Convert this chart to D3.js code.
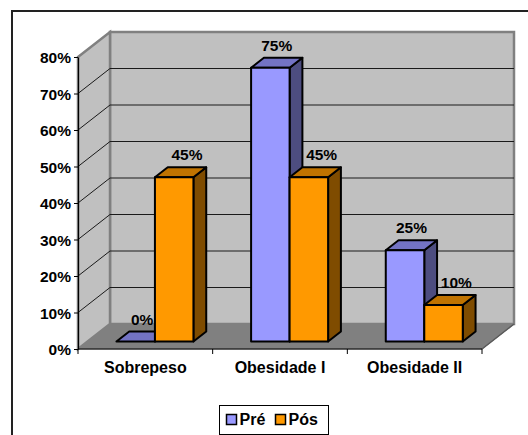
<!DOCTYPE html>
<html>
<head>
<meta charset="utf-8">
<script src="https://cdnjs.cloudflare.com/ajax/libs/d3/7.8.5/d3.min.js"></script>
<style>
  body { margin: 0; background: #fff; }
  svg { display: block; }
  text { font-family: Arial, "Liberation Sans", sans-serif; font-weight: bold; fill: #000; }
</style>
</head>
<body>
<div id="chart"></div>
<script>
// data
var categories = ["Sobrepeso", "Obesidade I", "Obesidade II"];
var seriesNames = ["Pré", "Pós"];
var preValues = [0, 0.75, 0.25];
var posValues = [0.45, 0.45, 0.10];
var yTicks = [0, 0.1, 0.2, 0.3, 0.4, 0.5, 0.6, 0.7, 0.8];

var width = 528, height = 435;
var plotLeft = 78, plotRight = 482, plotBottom = 349, plotTop = 57;
var DX = 32, DY = 25;          // depth of the 3d box
var barFront = 0.3, barDepth = 0.4; // where the bars sit in the depth

var colors = {
  "Pré": { front: "#9999ff", top: "#7373c4", side: "#4d4d80" },
  "Pós": { front: "#ff9900", top: "#c07300", side: "#7f4c00" }
};

var svg = d3.select("#chart").append("svg")
    .attr("width", width)
    .attr("height", height);

// outer frame (cut off to the right and bottom)
svg.append("path")
    .attr("d", "M12,440V11H540")
    .attr("fill", "none")
    .attr("stroke", "#222")
    .attr("stroke-width", 2);

var x = d3.scaleBand().domain(categories).range([plotLeft, plotRight]);
var y = d3.scaleLinear().domain([0, 0.8]).range([plotBottom, plotTop]);
var yMax = y(0.8), y0 = y(0);

function pts(a) { return a.map(function(p) { return p.join(","); }).join(" "); }

// walls and floor
svg.append("polygon")
    .attr("points", pts([[plotLeft + DX, yMax - DY], [plotRight + DX, yMax - DY], [plotRight + DX, y0 - DY], [plotLeft + DX, y0 - DY]]))
    .attr("fill", "#c0c0c0").attr("stroke", "#808080").attr("stroke-width", 2.5);
svg.append("polygon")
    .attr("points", pts([[plotLeft, yMax], [plotLeft + DX, yMax - DY], [plotLeft + DX, y0 - DY], [plotLeft, y0]]))
    .attr("fill", "#c0c0c0").attr("stroke", "#808080").attr("stroke-width", 2.5);
svg.append("polygon")
    .attr("points", pts([[plotLeft, y0], [plotLeft + DX, y0 - DY], [plotRight + DX, y0 - DY], [plotRight, y0]]))
    .attr("fill", "#808080").attr("stroke", "#808080").attr("stroke-width", 1);
svg.append("line")
    .attr("x1", plotRight).attr("y1", y0).attr("x2", plotRight + DX).attr("y2", y0 - DY)
    .attr("stroke", "#5a5a5a").attr("stroke-width", 1.5);

// gridlines on the back wall and the side wall
var inner = yTicks.filter(function(t) { return t > 0 && t < 0.8; });
svg.selectAll(".grid").data(inner).enter().append("path")
    .attr("class", "grid")
    .attr("d", function(t) {
      var yy = y(t);
      return "M" + plotLeft + "," + yy + "L" + (plotLeft + DX) + "," + (yy - DY) + "H" + (plotRight + DX);
    })
    .attr("fill", "none").attr("stroke", "#1a1a1a").attr("stroke-width", 1);

// y axis
var yAxis = svg.append("g")
    .attr("transform", "translate(" + plotLeft + ",0)")
    .call(d3.axisLeft(y).tickValues(yTicks).tickFormat(d3.format(".0%")).tickSize(4).tickSizeOuter(0));
yAxis.select(".domain").attr("stroke", "#000").attr("stroke-width", 1.2);
yAxis.selectAll(".tick line").attr("stroke", "#000");
yAxis.selectAll("text")
    .attr("x", -7).attr("dy", "0.36em")
    .style("font-size", "15.5px").style("font-family", "Arial, 'Liberation Sans', sans-serif").style("font-weight", "bold");

// x axis
svg.append("line")
    .attr("x1", plotLeft).attr("x2", plotRight).attr("y1", y0).attr("y2", y0)
    .attr("stroke", "#000").attr("stroke-width", 1.2);
var edges = categories.map(function(c) { return x(c); }).concat([plotRight]);
svg.selectAll(".xtick").data(edges).enter().append("line")
    .attr("x1", function(d) { return d; }).attr("x2", function(d) { return d; })
    .attr("y1", y0).attr("y2", y0 + 5)
    .attr("stroke", "#000");
svg.selectAll(".xlabel").data(categories).enter().append("text")
    .attr("x", function(c) { return x(c) + x.bandwidth() / 2; })
    .attr("y", y0 + 24)
    .attr("text-anchor", "middle")
    .style("font-size", "16px")
    .text(function(c) { return c; });

// bars
var fx = barFront * DX, fy = barFront * DY;
var bx = barDepth * DX, by = barDepth * DY;
var pair = 77, barW = pair / 2;
var bars = [];
categories.forEach(function(c, i) {
  [preValues[i], posValues[i]].forEach(function(v, j) {
    var x0 = x(c) + x.bandwidth() / 2 - pair / 2 + j * barW + fx;
    bars.push({ cat: c, series: seriesNames[j], value: v, x0: x0, x1: x0 + barW,
                yt: y(v) - fy, yb: y0 - fy });
  });
});

var g = svg.selectAll(".bar").data(bars).enter().append("g").attr("class", "bar");
g.append("polygon")
    .attr("points", function(d) {
      return pts([[d.x1, d.yt], [d.x1 + bx, d.yt - by], [d.x1 + bx, d.yb - by], [d.x1, d.yb]]);
    })
    .attr("fill", function(d) { return colors[d.series].side; });
g.append("polygon")
    .attr("points", function(d) {
      return pts([[d.x0, d.yt], [d.x0 + bx, d.yt - by], [d.x1 + bx, d.yt - by], [d.x1, d.yt]]);
    })
    .attr("fill", function(d) { return colors[d.series].top; });
g.filter(function(d) { return d.value > 0; }).append("rect")
    .attr("x", function(d) { return d.x0; })
    .attr("y", function(d) { return d.yt; })
    .attr("width", barW)
    .attr("height", function(d) { return d.yb - d.yt; })
    .attr("fill", function(d) { return colors[d.series].front; });
g.selectAll("polygon, rect")
    .attr("stroke", "#000").attr("stroke-width", 2).attr("stroke-linejoin", "round");

// value labels
svg.selectAll(".vlabel").data(bars).enter().append("text")
    .attr("x", function(d) { return d.x0 + barW / 2 + (d.series === "Pré" ? bx / 2 : bx); })
    .attr("y", function(d) { return d.yt - by - 7; })
    .attr("text-anchor", "middle")
    .style("font-size", "15.5px")
    .text(function(d) { return d3.format(".0%")(d.value); });

// legend
var lg = svg.append("g").attr("transform", "translate(219.5,405.5)");
lg.append("rect").attr("width", 109).attr("height", 29)
    .attr("fill", "#fff").attr("stroke", "#000").attr("stroke-width", 1);
var items = [{ name: "Pré", sx: 7, tx: 20 }, { name: "Pós", sx: 56, tx: 69 }];
items.forEach(function(it) {
  lg.append("rect").attr("x", it.sx).attr("y", 9).attr("width", 10).attr("height", 10)
      .attr("fill", colors[it.name].front).attr("stroke", "#000").attr("stroke-width", 1.5);
  lg.append("text").attr("x", it.tx).attr("y", 19.5)
      .style("font-size", "16px").text(it.name);
});
</script>
</body>
</html>
